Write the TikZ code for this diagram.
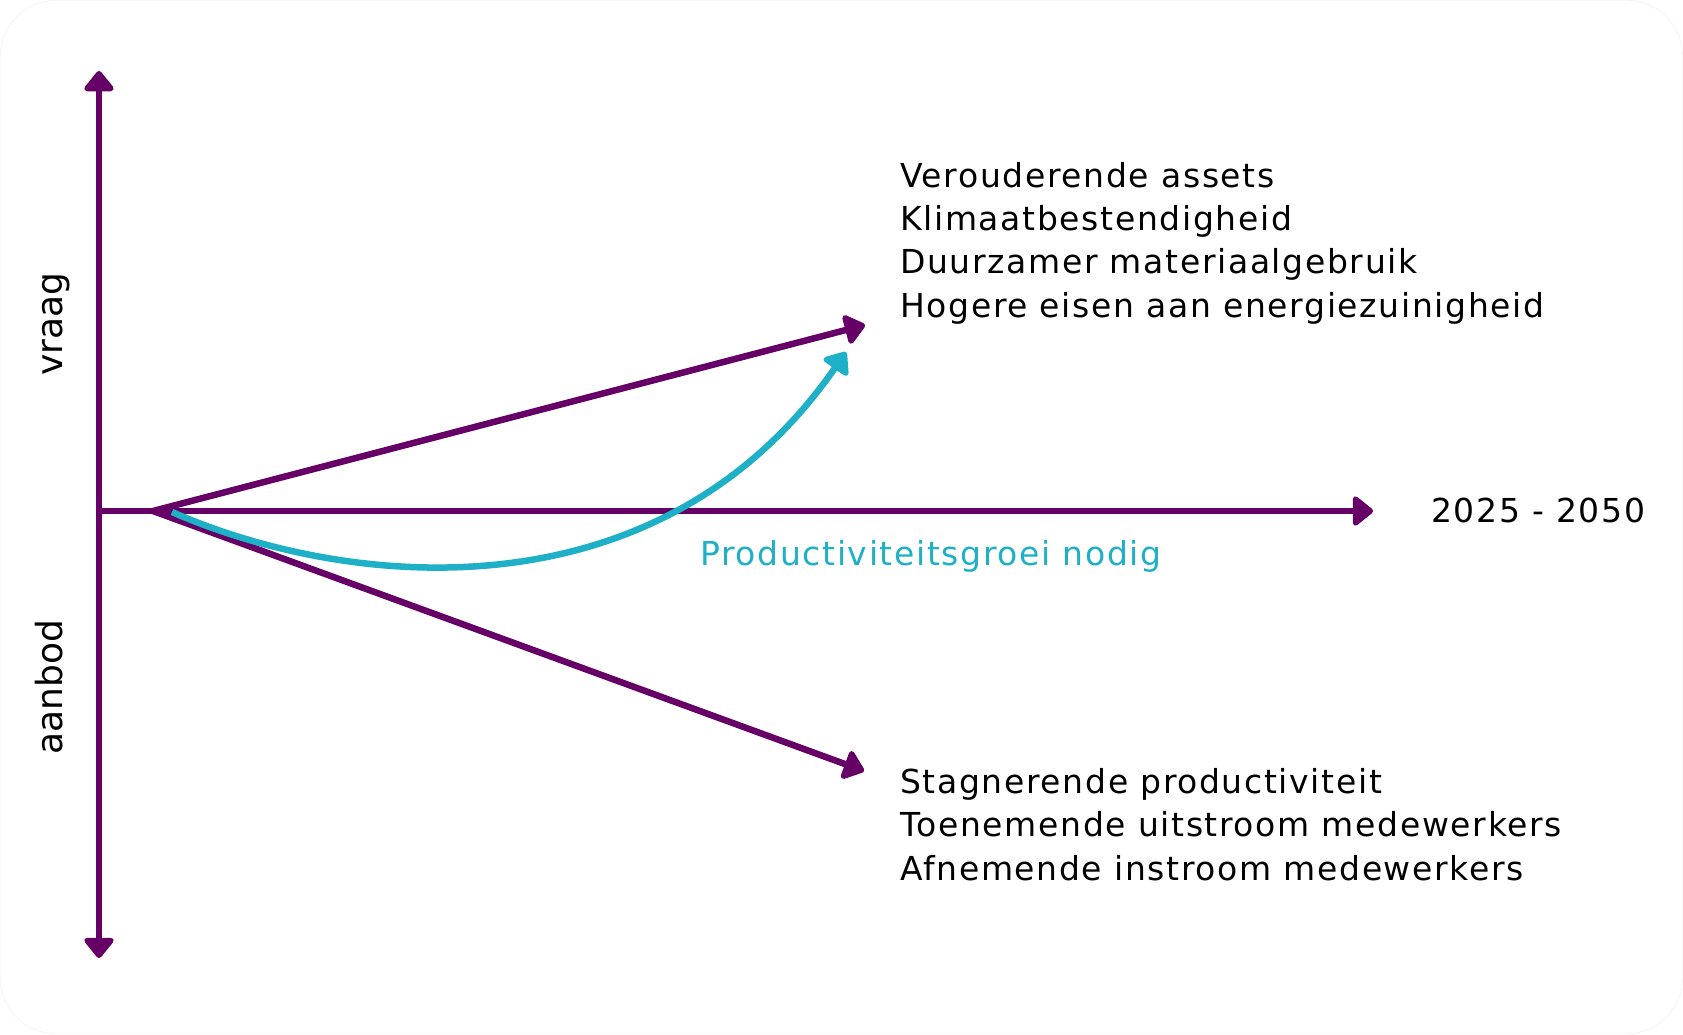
\documentclass[tikz,border=0pt]{standalone}
\usepackage{fontspec}
\setmainfont{DejaVu Sans}
\newfontfamily\listfont{DejaVu Sans}[LetterSpace=5]
\usetikzlibrary{arrows.meta}

\definecolor{axispurple}{RGB}{102,0,102}
\definecolor{growcyan}{RGB}{30,176,198}

\tikzstyle{axisline} = [draw=axispurple, line width=6.5pt, -{Triangle[width=34pt, length=22pt, round]}]
\tikzstyle{growline} = [draw=growcyan, line width=6.5pt, -{Triangle[width=34pt, length=22pt, round]}]
\tikzstyle{listtext} = [anchor=base west, inner sep=0pt, align=left, font=\listfont\fontsize{33}{43.3}\selectfont]
\tikzstyle{sidetext} = [anchor=base, inner sep=0pt, rotate=90, font=\fontsize{36}{40}\selectfont]

\begin{document}
\begin{tikzpicture}[x=1pt, y=-1pt]
	\useasboundingbox (0,0) rectangle (1683,1034);
	\draw[draw=black!7, fill=white, rounded corners=55pt] (0.5,0.5) rectangle (1682.5,1033.5);

	% assen
	\coordinate (top) at (99,71);
	\coordinate (bottom) at (99,958);
	\coordinate (cross) at (99,511);
	\coordinate (right) at (1373,511);
	\coordinate (fan) at (153,511);
	\coordinate (up) at (865,325);
	\coordinate (down) at (864,771);
	\coordinate (cstart) at (172,512);
	\coordinate (cend) at (846,352);

	\draw[axisline] (cross) -- (top);
	\draw[axisline] (cross) -- (bottom);
	\draw[axisline] (cross) -- (right);
	\draw[axisline] (fan) -- (up);
	\draw[axisline] (fan) -- (down);
	\draw[growline] (cstart) .. controls (350,590) and (660,620) .. (cend);

	\node[sidetext] (vraag) at (62,324) {vraag};
	\node[sidetext] (aanbod) at (62,687) {aanbod};
	\node[listtext] (jaren) at (1431,522) {2025 - 2050};

	\node[listtext] (vraaglijst) at (900,317) {Verouderende assets\\
		Klimaatbestendigheid\\
		Duurzamer materiaalgebruik\\
		Hogere eisen aan energiezuinigheid};
	\node[listtext] (aanbodlijst) at (900,880) {Stagnerende productiviteit\\
		Toenemende uitstroom medewerkers\\
		Afnemende instroom medewerkers};
	\node[listtext, text=growcyan] (groei) at (700,565) {Productiviteitsgroei nodig};
\end{tikzpicture}
\end{document}
